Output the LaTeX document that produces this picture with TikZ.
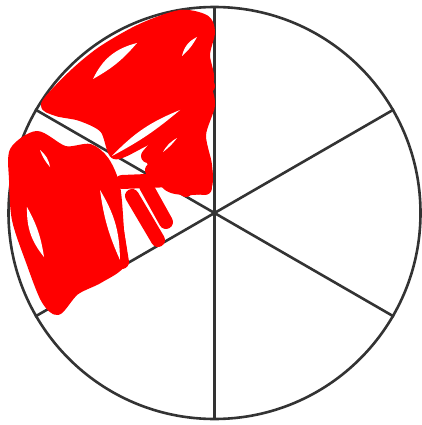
\documentclass[tikz,border=0pt]{standalone}
\begin{document}
\begin{tikzpicture}[x=1pt,y=-1pt,
  rim/.style={draw=black!80,line width=2.6pt},
  spoke/.style={draw=black!80,line width=2.6pt},
  scrib/.style={draw=red,line width=14pt,line cap=round,line join=round},
  blob/.style={fill=red,draw=red,line width=6pt,line join=round},
  gap/.style={fill=white}]
\useasboundingbox (0,0) rectangle (422,425);
\coordinate (c) at (214.5,213);
\node[circle,rim,minimum size=412pt,inner sep=0pt] (wheel) at (c) {};
\foreach \a in {90,150,210,270,330,30} {
  \draw[spoke] (c) -- (wheel.\a);
}
% red scribbles
\filldraw[blob] plot[smooth cycle] coordinates {(44,104) (70,75) (100,50) (140,27) (180,13) (206,18) (212,32) (207,55) (211,80) (198,105) (170,128) (140,146) (114,156) (103,130) (80,118) (56,113)};
\filldraw[blob] plot[smooth cycle] coordinates {(13,150) (37,134) (65,149) (90,147) (106,160) (117,186) (121,230) (123,263) (100,280) (76,292) (58,312) (44,300) (29,262) (15,220) (12,180)};
\filldraw[blob] plot[smooth cycle] coordinates {(148,152) (178,120) (205,88) (212,105) (203,135) (209,165) (208,188) (186,192) (165,186)};
\draw[scrib] (148,156) -- (208,86);
\draw[scrib] (152,170) -- (198,136) -- (206,175);
\draw[scrib] (178,186) -- (205,188);
\draw[scrib] (122,182) -- (172,180) -- (186,190);
\draw[scrib] (132,196) -- (158,240);
\draw[scrib] (146,186) -- (166,222);
\draw[scrib] (112,200) -- (122,262);
% small gaps
\fill[gap] (93,79) to[bend left=25] (137,43) to[bend left=10] cycle;
\fill[gap] (182,56) to[bend left=25] (197,37) to[bend left=10] cycle;
\fill[gap] (27,207) to[bend right=20] (44,257) to[bend right=10] cycle;
\fill[gap] (40,150) to[bend left=20] (50,167) to[bend left=10] cycle;
\fill[gap] (100,190) to[bend left=15] (120,260) to[bend left=8] cycle;
\fill[gap] (112,156) to[bend left=12] (180,110) to[bend left=6] cycle;
\fill[gap] (163,152) to[bend left=15] (177,138) to[bend left=8] cycle;
\end{tikzpicture}
\end{document}
